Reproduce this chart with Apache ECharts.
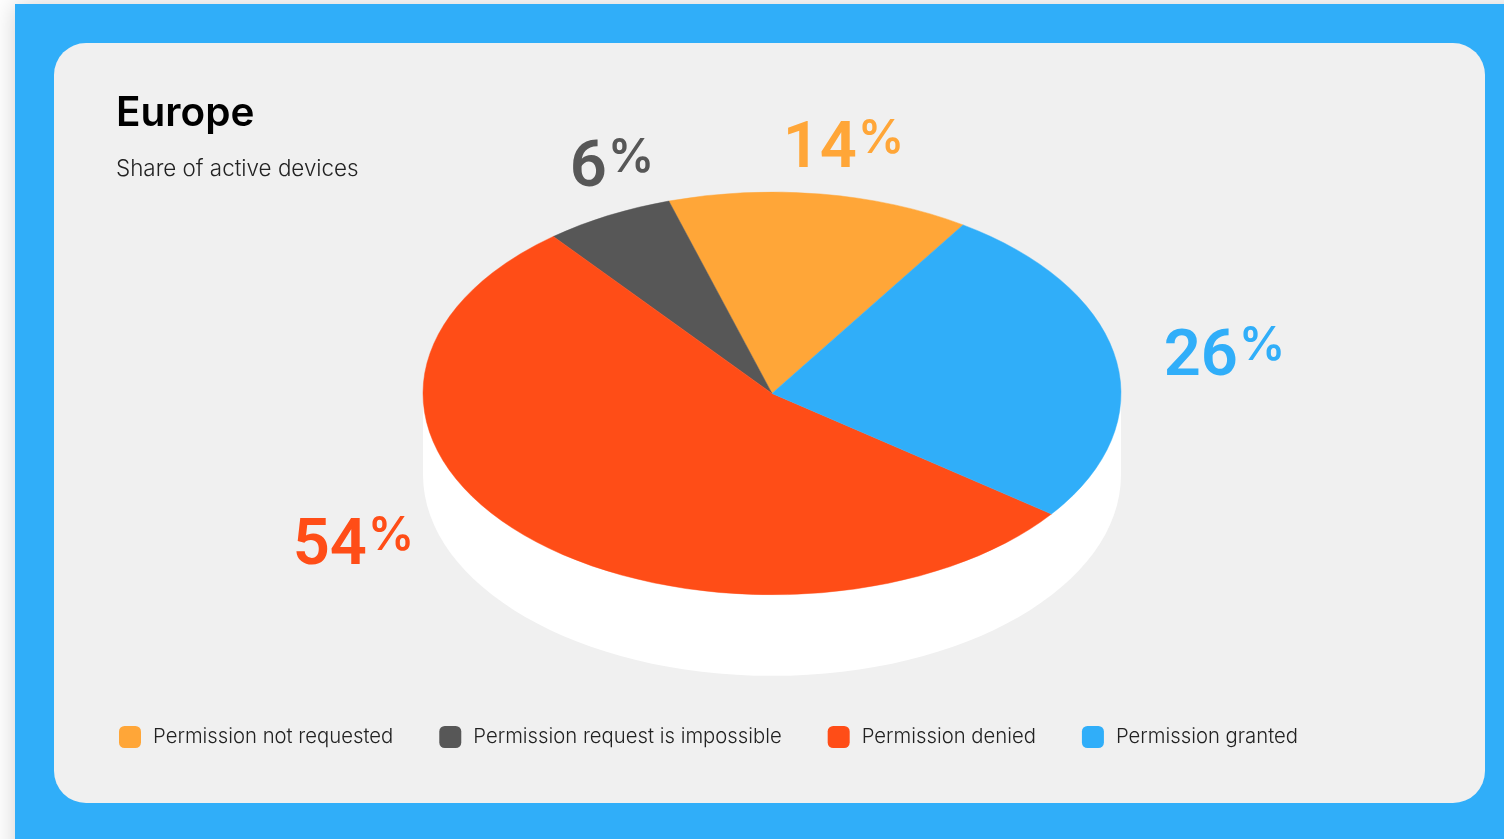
<!DOCTYPE html>
<html>
<head>
<meta charset="utf-8">
<style>html,body{margin:0;padding:0;background:#fff;overflow:hidden}#chart{width:1504px;height:839px}</style>
<script src="https://cdn.jsdelivr.net/npm/echarts@6/dist/echarts.min.js"></script>
</head>
<body>
<div id="chart"></div>
<script>
// Share of active devices in Europe, by notification permission state.
const categories = ['Permission not requested', 'Permission request is impossible', 'Permission denied', 'Permission granted'];
const shares = [14, 6, 54, 26];
const colors = ['#FFA638', '#575757', '#FF4D17', '#30AEF9'];

// Tilted-disc geometry and the spot where each percentage sits.
// Slices run counter-clockwise, beginning at startDeg measured from twelve o'clock.
const disc = { cx: 772, cy: 393.4, rx: 349, ry: 201.4, depth: 81, startDeg: 33.2 };
const labelSpots = [
  { x: 857, digits: 183, percent: 162 },
  { x: 607, digits: 202, percent: 181 },
  { x: 367, digits: 580, percent: 559 },
  { x: 1238, digits: 391, percent: 369 }
];
const total = shares.reduce((a, b) => a + b, 0);

function sliceSeries(name, i) {
  const before = shares.slice(0, i).reduce((a, b) => a + b, 0);
  return {
    type: 'custom',
    name,
    coordinateSystem: 'none',
    itemStyle: { color: colors[i] },
    silent: true,
    data: [[shares[i]]],
    renderItem(params, api) {
      const v = api.value(0);
      const toRad = s => ((disc.startDeg - s / total * 360 - 90) * Math.PI) / 180;
      const spot = labelSpots[i];
      return {
        type: 'group',
        children: [
          {
            type: 'sector',
            x: disc.cx,
            y: disc.cy,
            scaleY: disc.ry / disc.rx,
            shape: { cx: 0, cy: 0, r0: 0, r: disc.rx, startAngle: toRad(before + v), endAngle: toRad(before), clockwise: true },
            style: { fill: colors[i], stroke: colors[i], lineWidth: 0.6 }
          },
          {
            type: 'text', z2: 5, x: spot.x, y: spot.digits,
            style: { text: String(v), fill: colors[i], font: '600 65px Roboto', align: 'right', verticalAlign: 'bottom' }
          },
          {
            type: 'text', z2: 5, x: spot.x + 1, y: spot.percent,
            style: { text: '%', fill: colors[i], font: '600 46px Inter', align: 'left', verticalAlign: 'bottom' }
          }
        ]
      };
    }
  };
}

const chart = echarts.init(document.getElementById('chart'), null, { renderer: 'canvas' });
chart.setOption({
  animation: false,
  backgroundColor: '#ffffff',
  title: {
    left: 111, top: 86, itemGap: 19,
    text: 'Europe',
    subtext: 'Share of active devices',
    textStyle: { fontFamily: 'Inter', fontWeight: 600, fontSize: 40.5, color: '#000', lineHeight: 46 },
    subtextStyle: { fontFamily: 'Inter', fontWeight: 300, fontSize: 22.4, color: '#222', lineHeight: 26 }
  },
  legend: {
    left: 114, top: 721, itemGap: 46, itemWidth: 22, itemHeight: 22,
    icon: 'roundRect',
    selectedMode: false,
    data: categories,
    textStyle: { fontFamily: 'Inter', fontWeight: 300, fontSize: 20.3, color: '#222', padding: [0, 0, 0, 7] }
  },
  graphic: [
    { type: 'rect', z: -10, shape: { x: 15, y: 4, width: 1600, height: 900 }, style: { fill: '#30AEF9', shadowColor: 'rgba(0,0,0,0.18)', shadowBlur: 24 } },
    { type: 'rect', z: -9, shape: { x: 54, y: 43, width: 1431, height: 760, r: 32 }, style: { fill: '#F0F0F0' } },
    { type: 'ellipse', z: -8, shape: { cx: disc.cx, cy: disc.cy + disc.depth, rx: disc.rx, ry: disc.ry }, style: { fill: '#fff' } },
    { type: 'rect', z: -8, shape: { x: disc.cx - disc.rx, y: disc.cy, width: disc.rx * 2, height: disc.depth }, style: { fill: '#fff' } }
  ],
  series: categories.map(sliceSeries)
});
</script>
</body>
</html>
